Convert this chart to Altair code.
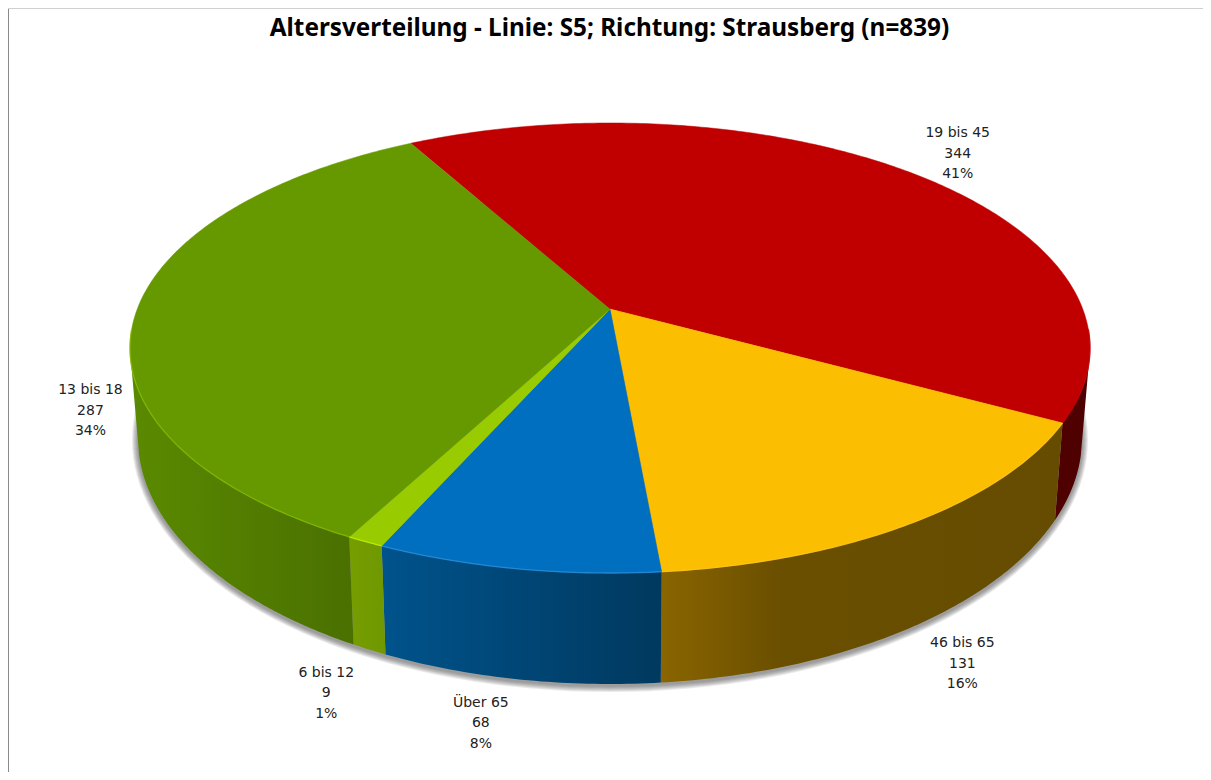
import math
import altair as alt
import pandas as pd

TITLE = "Altersverteilung - Linie: S5; Richtung: Strausberg (n=839)"
categories = ["19 bis 45", "46 bis 65", "Über 65", "6 bis 12", "13 bis 18"]
counts = [344, 131, 68, 9, 287]
percents = ["41%", "16%", "8%", "1%", "34%"]
top_colors = ["#c00000", "#fcbe00", "#006fc0", "#99cc00", "#669900"]
rim_colors = ["#c00000", "#ffc61a", "#2a8fd8", "#c4f000", "#86bb00"]
wall_stops = [
    [("#4f0000", 0), ("#4f0000", 1)],
    [("#8a6500", 0), ("#6a4f00", 0.3), ("#654c00", 1)],
    [("#00538c", 0), ("#00395f", 1)],
    [("#769e00", 0), ("#6f9800", 1)],
    [("#5a8a00", 0), ("#4a7000", 1)],
]
label_offsets = [(51, -38), (49, 121), (-36, 134), (-39, 131), (-46, 79)]

START_ANGLE = -29.0
TILT = 0.173
TOP = (610, 348, 480, 225)
BOTTOM = (610, 438, 472, 246)
WALL_FROM, WALL_TO = 104, 256


def project(ux, uy, ell):
    cx, cy, rx, ry = ell
    d = 1 - TILT * uy
    return cx + rx * ux * math.sqrt(1 - TILT**2) / d, cy + ry * (uy - TILT) / d


def rim(theta, ell):
    t = math.radians(theta)
    return project(math.sin(t), -math.cos(t), ell)


total = sum(counts)
edges = [START_ANGLE]
for c in counts:
    edges.append(edges[-1] + 360 * c / total)

tops, rims, labels, shadows = [], [], [], []
wall_tables = []
for k, name in enumerate(categories):
    a0, a1 = edges[k], edges[k + 1]
    n = max(3, int((a1 - a0) * 1.5))
    thetas = [a0 + (a1 - a0) * j / n for j in range(n + 1)]
    ax, ay = project(0, 0, TOP)
    tops.append(dict(poly=name, i=-1, x=ax, y=ay, fill=top_colors[k]))
    for j, th in enumerate(thetas):
        x, y = rim(th, TOP)
        tops.append(dict(poly=name, i=j, x=x, y=y, fill=top_colors[k]))
        if 95 < th < 265:
            rims.append(dict(poly=name, i=j, x=x, y=y, col=rim_colors[k]))
    lo, hi = max(a0, WALL_FROM), min(a1, WALL_TO)
    visible = [lo + (hi - lo) * j / n for j in range(n + 1)]
    rows = [dict(i=j, x=rim(th, TOP)[0], y=rim(th, TOP)[1]) for j, th in enumerate(visible)]
    m = len(visible)
    rows += [dict(i=m + j, x=rim(th, BOTTOM)[0], y=rim(th, BOTTOM)[1]) for j, th in enumerate(reversed(visible))]
    wall_tables.append(pd.DataFrame(rows))
    mx, my = rim((a0 + a1) / 2, TOP)
    dx, dy = label_offsets[k]
    labels.append(dict(x=mx + dx, y=my + dy, text=f"{name}\n{counts[k]}\n{percents[k]}"))

for s in range(6):
    cx, cy, rx, ry = BOTTOM
    ell = (cx, cy + 2, rx + s + 1, ry + s + 1)
    for j in range(181):
        x, y = rim(j * 2, ell)
        shadows.append(dict(poly=f"s{s}", i=j, x=x, y=y))

xs = alt.Scale(domain=[8, 1203], range=[0, 1195], nice=False, zero=False)
ys = alt.Scale(domain=[8, 772], range=[0, 764], nice=False, zero=False)
X = alt.X("x:Q", scale=xs, axis=None)
Y = alt.Y("y:Q", scale=ys, axis=None)

shadow = alt.Chart(pd.DataFrame(shadows)).mark_line(
    fill="#444444", fillOpacity=0.11, strokeWidth=0
).encode(x=X, y=Y, detail="poly:N", order="i:Q")

walls = []
for table, stops in zip(wall_tables, wall_stops):
    grad = alt.LinearGradient(
        gradient="linear", x1=0, x2=1, y1=0, y2=0,
        stops=[alt.GradientStop(color=c, offset=o) for c, o in stops],
    )
    walls.append(
        alt.Chart(table).mark_line(fill=grad, strokeWidth=0).encode(x=X, y=Y, order="i:Q")
    )

top = alt.Chart(pd.DataFrame(tops)).mark_line(strokeWidth=0.5).encode(
    x=X, y=Y, detail="poly:N", order="i:Q",
    fill=alt.Fill("fill:N", scale=None), stroke=alt.Stroke("fill:N", scale=None),
)
rim_line = alt.Chart(pd.DataFrame(rims)).mark_line(strokeWidth=1.3, strokeOpacity=0.8).encode(
    x=X, y=Y, detail="poly:N", order="i:Q", stroke=alt.Stroke("col:N", scale=None),
)
text = alt.Chart(pd.DataFrame(labels)).mark_text(
    font="DejaVu Sans", fontSize=14, lineBreak="\n", lineHeight=20.5,
    align="center", baseline="middle", color="#222222",
).encode(x=X, y=Y, text="text:N")

frame_left = alt.Chart(pd.DataFrame({"a": [0]})).mark_rule(color="#8a8a8a", strokeWidth=1).encode(
    x=alt.value(0.5), y=alt.value(0), y2=alt.value(764))
frame_top = alt.Chart(pd.DataFrame({"a": [0]})).mark_rule(color="#d0d0d0", strokeWidth=1).encode(
    x=alt.value(0), x2=alt.value(1195), y=alt.value(0.5))

chart = alt.layer(frame_left, frame_top, shadow, *walls, top, rim_line, text).properties(
    width=1195, height=764, padding=0,
    autosize=alt.AutoSizeParams(type="none"),
    title=alt.TitleParams(TITLE, font="Noto Sans", fontSize=24.3, fontWeight="bold",
                          color="#000000", anchor="middle", dx=4, dy=57, baseline="alphabetic"),
).configure_view(stroke=None).configure_title(offset=0)

chart.save("out.html", embed_options={"renderer": "svg", "actions": False})
